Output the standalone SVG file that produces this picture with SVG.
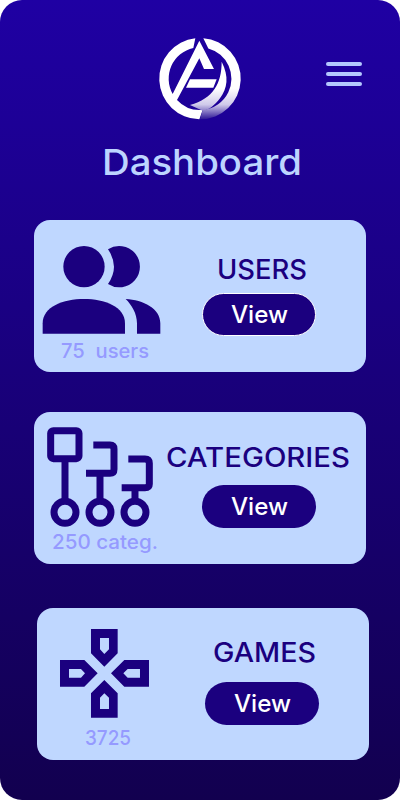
<svg xmlns="http://www.w3.org/2000/svg" width="400" height="800" viewBox="0 0 400 800">
<style>
text{font-family:Inter,"Liberation Sans",sans-serif;text-anchor:start}
.card{fill:#bfd7ff}
.dark{fill:#1b007f}
.btn{fill:#1b007f}
.title{font-size:27px;fill:#1b007f;font-weight:500}
.view{font-size:24px;fill:#fff;font-weight:500}
.sub{font-size:20px;fill:#959aff;font-weight:500;white-space:pre}
.ln{fill:none;stroke:#1b007f;stroke-width:7}
.bar{fill:#b4c8ff}
</style>
<defs>
<linearGradient id="bg" x1="0" y1="0" x2="0" y2="1"><stop offset="0" stop-color="#1f00a3"/><stop offset="1" stop-color="#12004f"/></linearGradient>
<linearGradient id="sw" gradientUnits="userSpaceOnUse" x1="0" y1="54" x2="0" y2="298"><stop offset="0" stop-color="#fff"/><stop offset="0.62" stop-color="#fff"/><stop offset="0.82" stop-color="#cfc9ea"/><stop offset="1" stop-color="#2d1696"/></linearGradient>
</defs>
<rect width="400" height="800" rx="22" fill="url(#bg)"/>
<g id="logo" transform="translate(140 20) scale(0.3333)">
<path fill="#fff" d="M166 54.800A122 122 0 0 0 178 298L188 269.700A94 94 0 0 1 111 239.800L178 115L192 147H222L178 62L98 222A94 94 0 0 1 160 84.200Z"/>
<path fill="url(#sw)" d="M190 54.400A122 122 0 0 1 180 298L188 269.700A94 94 0 0 0 265 217A94 94 0 0 0 205 85.400Z"/>
<path fill="url(#sw)" d="M245 125C268 170 262 205 240 235C225 255 205 272 188 272L150 255C220 235 245 190 245 125Z"/>
<path fill="#fff" d="M150 178H230L220 203H138Z"/>
</g>
<g id="menu">
<rect class="bar" x="326" y="62" width="36" height="4" rx="2"/>
<rect class="bar" x="326" y="72" width="36" height="4" rx="2"/>
<rect class="bar" x="326" y="82" width="36" height="4" rx="2"/>
</g>
<text id="heading" x="102" y="175" font-size="36" font-weight="500" fill="#bdd4ff" textLength="200" lengthAdjust="spacingAndGlyphs">Dashboard</text>
<g id="card-users">
<rect class="card" x="34" y="220" width="332" height="152" rx="16"/>
<g transform="translate(30 220) scale(0.3333)" class="dark">
<circle cx="162" cy="140" r="62"/>
<path d="M234 88A62 62 0 1 1 234 192Q252 165 252 140Q252 115 234 88Z"/>
<path d="M38 341V310C38 260 100 237 162 237C224 237 285 260 285 310V341Z"/>
<path d="M287 237C340 240 391 265 391 310V341H321V310C321 280 305 255 287 237Z"/>
</g>
<text class="sub" x="61" y="358" textLength="88" lengthAdjust="spacingAndGlyphs">75  users</text>
<text class="title" x="217" y="279" textLength="90" lengthAdjust="spacingAndGlyphs">USERS</text>
<rect class="btn" x="202.500" y="293.500" width="113" height="42" rx="21" stroke="#fff" stroke-width="1"/>
<text class="view" x="231" y="323" textLength="57" lengthAdjust="spacingAndGlyphs">View</text>
</g>
<g id="card-categories">
<rect class="card" x="34" y="412" width="332" height="152" rx="16"/>
<g transform="translate(30 415) scale(0.3333)" class="ln" style="stroke-width:21">
<rect x="62" y="47" width="85" height="84" rx="8"/>
<path d="M105 131V260M190 90H240Q252 90 252 102V163Q252 175 240 175H168M210 175V260M295 132H345Q358 132 358 145V207Q358 218 345 218H275M315 218V260"/>
<circle cx="105" cy="292" r="33"/><circle cx="210" cy="292" r="33"/><circle cx="315" cy="292" r="33"/>
</g>
<text class="sub" x="52" y="549" textLength="106" lengthAdjust="spacingAndGlyphs">250 categ.</text>
<text class="title" x="166" y="467" textLength="184" lengthAdjust="spacingAndGlyphs">CATEGORIES</text>
<rect class="btn" x="202" y="485" width="114" height="43" rx="21.500"/>
<text class="view" x="231" y="515" textLength="57" lengthAdjust="spacingAndGlyphs">View</text>
</g>
<g id="card-games">
<rect class="card" x="37" y="608" width="332" height="152" rx="16"/>
<g transform="translate(40 610) scale(0.3333)" class="dark" fill-rule="evenodd">
<path d="M153 57H233V130L193 170L153 130ZM180 84V118L193 132L207 118V84Z"/>
<path d="M153 323H233V250L193 210L153 250ZM180 297V263L193 250L207 263V297Z"/>
<path d="M60 150H133L173 190L133 230H60ZM87 177V203H123L135 190L123 177Z"/>
<path d="M327 150H253L213 190L253 230H327ZM300 177V203H263L250 190L263 177Z"/>
</g>
<text class="sub" x="85" y="745" textLength="46" lengthAdjust="spacingAndGlyphs">3725</text>
<text class="title" x="213" y="662" textLength="103" lengthAdjust="spacingAndGlyphs">GAMES</text>
<rect class="btn" x="205" y="682" width="114" height="43" rx="21.500"/>
<text class="view" x="234" y="712" textLength="57" lengthAdjust="spacingAndGlyphs">View</text>
</g>
</svg>
